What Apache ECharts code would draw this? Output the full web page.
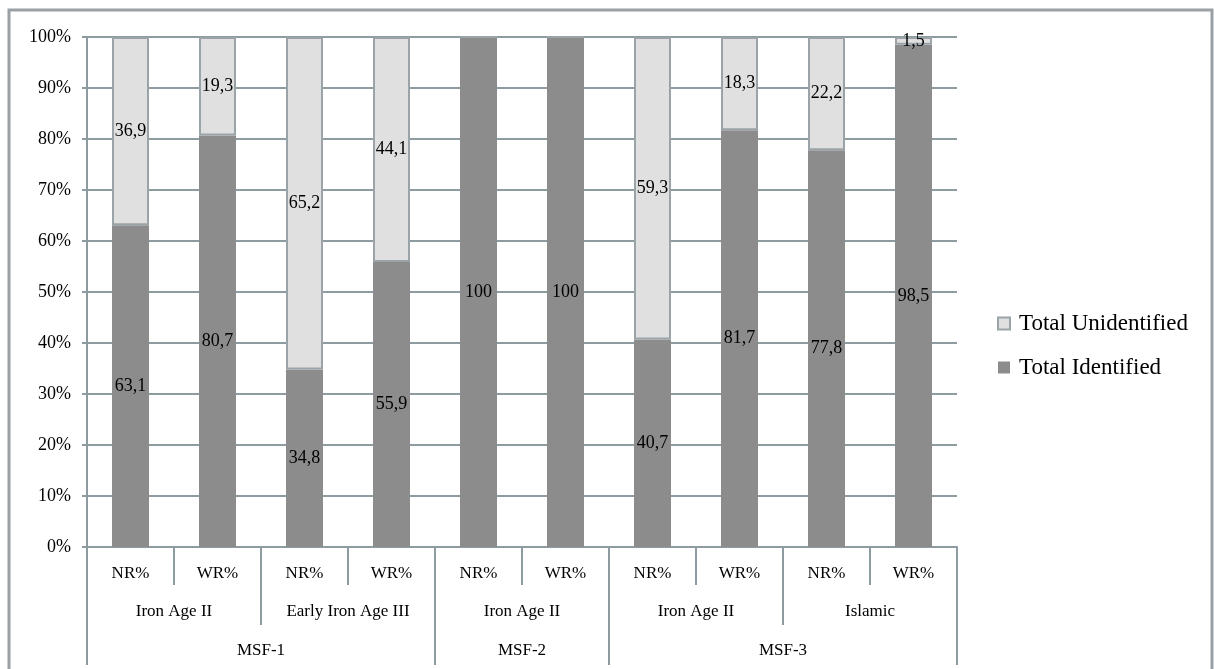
<!DOCTYPE html>
<html>
<head>
<meta charset="utf-8">
<script src="https://cdn.jsdelivr.net/npm/echarts@6/dist/echarts.min.js"></script>
<style>
html,body{margin:0;padding:0;background:#fff;}
#chart{width:1214px;height:669px;}
</style>
</head>
<body>
<div id="chart"></div>
<script>
const categories = ['NR%','WR%','NR%','WR%','NR%','WR%','NR%','WR%','NR%','WR%'];
const periodLabels = ['Iron Age II','Early Iron Age III','Iron Age II','Iron Age II','Islamic'];
const periodSpans = [2,2,2,2,2];
const siteLabels = ['MSF-1','MSF-2','MSF-3'];
const siteSpans = [4,2,4];
const identified = [63.1, 80.7, 34.8, 55.9, 100, 100, 40.7, 81.7, 77.8, 98.5];
const unidentified = [36.9, 19.3, 65.2, 44.1, 0, 0, 59.3, 18.3, 22.2, 1.5];
const yTicks = [0,10,20,30,40,50,60,70,80,90,100];

function tiers(labels, spans){
  const bounds=[0], centers=[], map={};
  let acc=0;
  spans.forEach((s,i)=>{ const c=acc+s/2; centers.push(c); map[c]=labels[i]; acc+=s; bounds.push(acc); });
  return {bounds, centers, map};
}
const pT = tiers(periodLabels, periodSpans);
const sT = tiers(siteLabels, siteSpans);

const FONT = 'Liberation Serif';
const GRID = '#8e9ca2';
const fmt = v => v === 0 ? '' : String(v).replace('.', ',');

const chart = echarts.init(document.getElementById('chart'));
chart.setOption({
  animation:false,
  backgroundColor:'#fff',
  graphic:[{type:'rect', shape:{x:9,y:10,width:1203,height:700}, style:{fill:'none', stroke:'#9aa0a3', lineWidth:3}, silent:true}],
  legend:{
    orient:'vertical', left:992, top:307,
    icon:'rect',
    itemWidth:12, itemHeight:12, itemGap:21,
    textStyle:{fontFamily:FONT, fontSize:23, color:'#000', padding:[0,0,0,4]},
    data:['Total Unidentified','Total Identified']
  },
  grid:{left:87, right:257, top:37, bottom:122, containLabel:false},
  yAxis:{
    type:'value', min:yTicks[0], max:yTicks[yTicks.length-1], interval:yTicks[1]-yTicks[0],
    axisLine:{show:true, lineStyle:{color:GRID, width:2}},
    axisTick:{show:true, length:5, lineStyle:{color:GRID, width:2}},
    splitLine:{lineStyle:{color:GRID, width:2}},
    axisLabel:{formatter:'{value}%', margin:16, fontFamily:FONT, fontSize:18, color:'#000'}
  },
  xAxis:[
    {
      type:'category', data:categories, position:'bottom',
      axisLine:{show:true, lineStyle:{color:GRID, width:2}},
      axisTick:{show:true, interval:0, length:38, lineStyle:{color:GRID, width:2}},
      axisLabel:{interval:0, margin:18, fontFamily:FONT, fontSize:17, color:'#000'}
    },
    {
      type:'value', min:0, max:categories.length, position:'bottom', offset:0,
      axisLine:{show:false}, splitLine:{show:false},
      axisTick:{show:true, length:78, customValues:pT.bounds, lineStyle:{color:GRID, width:2}},
      axisLabel:{customValues:pT.centers, margin:56, fontFamily:FONT, fontSize:17, color:'#000', formatter:v=>pT.map[v]||''}
    },
    {
      type:'value', min:0, max:categories.length, position:'bottom', offset:0,
      axisLine:{show:false}, splitLine:{show:false},
      axisTick:{show:true, length:118, customValues:sT.bounds, lineStyle:{color:GRID, width:2}},
      axisLabel:{customValues:sT.centers, margin:95, fontFamily:FONT, fontSize:17, color:'#000', formatter:v=>sT.map[v]||''}
    }
  ],
  series:[
    {
      name:'Total Identified', type:'bar', stack:'t', xAxisIndex:0, data:identified,
      barWidth:37,
      itemStyle:{color:'#8c8c8c'},
      label:{show:true, position:'inside', fontFamily:FONT, fontSize:18, color:'#000', formatter:p=>fmt(p.value)}
    },
    {
      name:'Total Unidentified', type:'bar', stack:'t', xAxisIndex:0, data:unidentified,
      barWidth:37,
      itemStyle:{color:'#e0e0e0', borderColor:'#9aa3a7', borderWidth:2},
      label:{show:true, position:'inside', fontFamily:FONT, fontSize:18, color:'#000', formatter:p=>fmt(p.value)}
    }
  ]
});
</script>
</body>
</html>
